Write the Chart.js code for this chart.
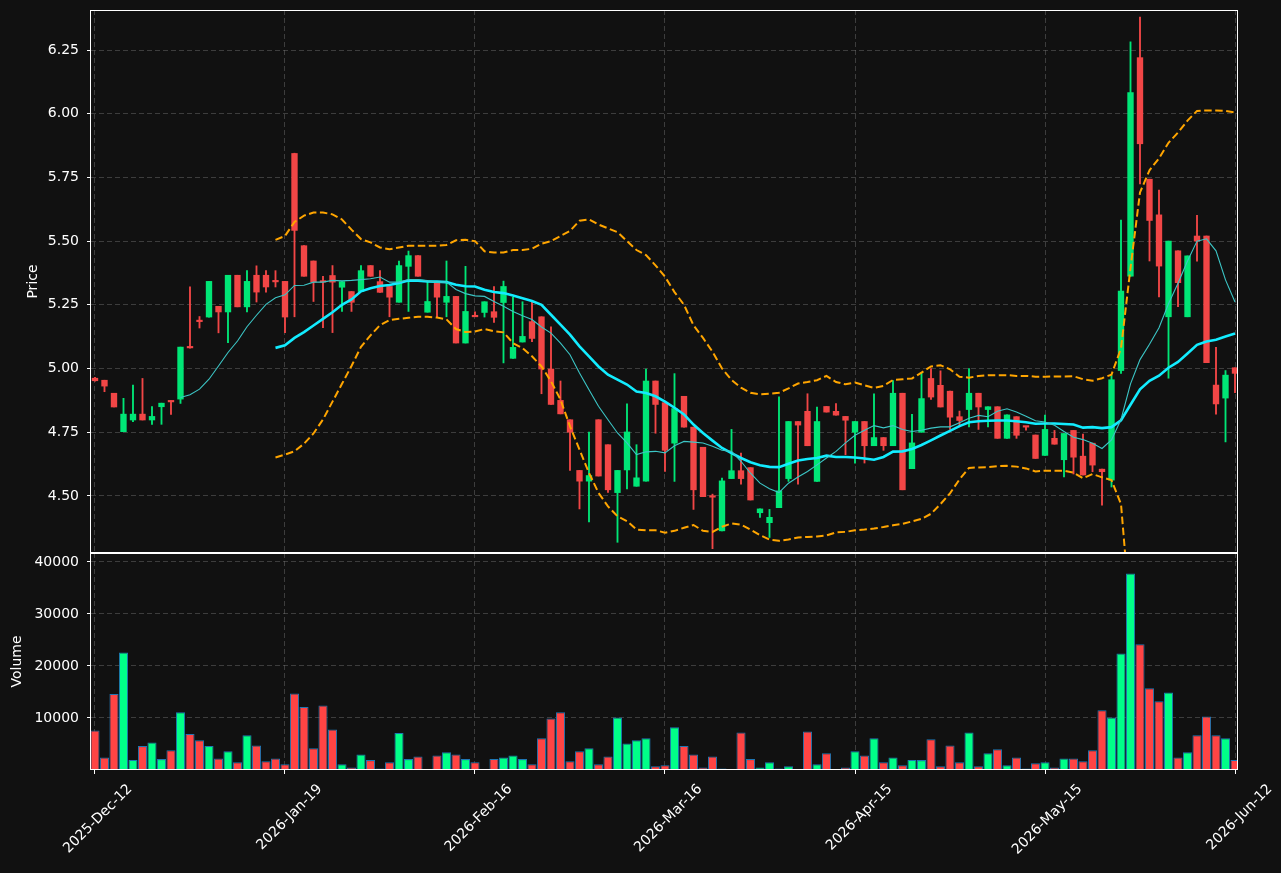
<!DOCTYPE html>
<html>
<head>
<meta charset="utf-8">
<script src="https://cdn.jsdelivr.net/npm/chart.js@4.4.1/dist/chart.umd.min.js"></script>
<style>
  html, body { margin: 0; padding: 0; background: #111111; }
  #wrap { position: relative; width: 1281px; height: 873px; background: #111111; }
  .pane { position: absolute; left: 0; }
</style>
</head>
<body>
<div id="wrap">
  <canvas id="price" class="pane" width="1281" height="553" style="top:0"></canvas>
  <canvas id="vol" class="pane" width="1281" height="320" style="top:553px"></canvas>
</div>
<script>
// ---------------- data ----------------
const tickIndex = [0, 20, 40, 60, 80, 100, 120];
const dateLabels = ['2025-Dec-12', '2026-Jan-19', '2026-Feb-16', '2026-Mar-16', '2026-Apr-15', '2026-May-15', '2026-Jun-12'];
const priceTicks = [4.50, 4.75, 5.00, 5.25, 5.50, 5.75, 6.00, 6.25];
const volumeTicks = [10000, 20000, 30000, 40000];

const open = [4.962,4.954,4.903,4.752,4.798,4.821,4.798,4.850,4.871,4.880,
5.083,5.186,5.202,5.244,5.222,5.366,5.242,5.366,5.366,5.342,
5.342,5.844,5.482,5.422,5.341,5.365,5.319,5.302,5.302,5.404,
5.341,5.322,5.260,5.401,5.443,5.221,5.341,5.260,5.283,5.100,
5.205,5.220,5.223,5.259,5.040,5.104,5.184,5.203,4.998,4.875,
4.799,4.600,4.558,4.799,4.701,4.513,4.602,4.538,4.558,4.951,
4.866,4.707,4.891,4.770,4.691,4.497,4.363,4.568,4.599,4.611,
4.434,4.395,4.454,4.568,4.792,4.832,4.557,4.851,4.832,4.812,
4.750,4.792,4.697,4.729,4.697,4.903,4.607,4.750,4.961,4.934,
4.911,4.811,4.839,4.903,4.839,4.850,4.726,4.811,4.772,4.739,
4.659,4.726,4.642,4.757,4.656,4.707,4.605,4.562,4.992,5.362,
6.220,5.743,5.603,5.203,5.462,5.203,5.520,5.520,4.935,4.884,
5.003];

const high = [4.965,4.954,4.903,4.883,4.935,4.961,4.851,4.864,4.872,5.084,
5.321,5.204,5.342,5.244,5.366,5.366,5.384,5.403,5.384,5.384,
5.342,5.845,5.482,5.422,5.362,5.404,5.341,5.302,5.404,5.404,
5.384,5.322,5.422,5.461,5.443,5.341,5.341,5.422,5.283,5.401,
5.222,5.262,5.322,5.343,5.279,5.262,5.262,5.203,5.164,4.951,
4.799,4.600,4.751,4.799,4.701,4.600,4.861,4.701,4.998,4.951,
4.866,4.980,4.891,4.770,4.691,4.507,4.570,4.761,4.668,4.611,
4.449,4.447,4.889,4.792,4.792,4.901,4.849,4.851,4.862,4.812,
4.792,4.792,4.901,4.729,4.953,4.903,4.820,4.984,5.000,4.991,
4.911,4.833,5.000,4.903,4.850,4.850,4.818,4.811,4.772,4.739,
4.817,4.757,4.745,4.757,4.743,4.707,4.605,4.972,5.583,6.282,
6.379,5.743,5.700,5.500,5.462,5.442,5.601,5.520,5.083,4.992,
5.003];

const low = [4.950,4.909,4.849,4.752,4.791,4.798,4.781,4.781,4.820,4.863,
5.080,5.159,5.202,5.140,5.101,5.242,5.222,5.261,5.300,5.320,
5.141,5.203,5.362,5.263,5.160,5.141,5.224,5.224,5.302,5.362,
5.299,5.203,5.260,5.224,5.362,5.221,5.203,5.203,5.100,5.100,
5.203,5.202,5.181,5.022,5.040,5.104,5.105,4.901,4.859,4.822,
4.600,4.449,4.398,4.578,4.514,4.318,4.527,4.538,4.558,4.746,
4.596,4.557,4.770,4.447,4.497,4.293,4.363,4.568,4.546,4.484,
4.416,4.337,4.454,4.557,4.546,4.697,4.557,4.829,4.817,4.662,
4.629,4.629,4.697,4.679,4.697,4.524,4.607,4.750,4.879,4.849,
4.761,4.771,4.771,4.761,4.771,4.726,4.726,4.726,4.758,4.647,
4.659,4.703,4.575,4.586,4.582,4.595,4.464,4.535,4.981,5.362,
5.724,5.422,5.281,4.962,5.243,5.203,5.421,5.023,4.821,4.712,
4.905];

const close = [4.952,4.931,4.849,4.821,4.821,4.798,4.812,4.864,4.869,5.084,
5.081,5.184,5.342,5.222,5.366,5.242,5.342,5.300,5.320,5.340,
5.202,5.542,5.362,5.339,5.339,5.339,5.341,5.260,5.384,5.362,
5.299,5.280,5.404,5.443,5.362,5.263,5.280,5.283,5.100,5.224,
5.203,5.262,5.201,5.322,5.083,5.126,5.118,4.998,4.859,4.822,
4.750,4.558,4.580,4.578,4.524,4.600,4.751,4.571,4.951,4.859,
4.679,4.843,4.770,4.524,4.497,4.495,4.559,4.599,4.568,4.484,
4.449,4.416,4.520,4.792,4.778,4.697,4.792,4.829,4.817,4.797,
4.792,4.697,4.729,4.697,4.903,4.524,4.708,4.882,4.888,4.849,
4.809,4.796,4.903,4.849,4.850,4.726,4.818,4.738,4.770,4.647,
4.761,4.703,4.745,4.652,4.582,4.621,4.595,4.956,5.304,6.083,
5.882,5.581,5.402,5.500,5.337,5.442,5.500,5.023,4.861,4.974,
4.981];

const volume = [7600,2400,14600,22600,1900,4600,5300,2100,3800,11100,
6900,5700,4600,2200,3600,1500,6700,4700,1700,2200,
1100,14700,12100,4200,12400,7800,1100,500,3000,1900,
300,1500,7100,2100,2600,100,2800,3400,3000,2100,
1500,100,2100,2400,2800,2100,1100,6100,9900,11100,
1700,3600,4200,1100,2600,10100,5100,5700,6100,700,
900,8200,4600,3000,500,2600,300,100,7200,2100,
500,1500,300,700,100,7400,1100,3200,100,500,
3600,2800,6100,1500,2400,900,1900,1900,5900,700,
4700,1500,7200,700,3200,4000,900,2400,300,1300,
1500,500,2200,2200,1700,3800,11500,10100,22400,37800,
24200,15700,13200,14900,2400,3400,6700,10300,6700,6100,
1900];

// thin line (10-bar average) starts at bar 9
const maShortStart = 9;
const maShort = [4.886,4.897,4.919,4.958,5.010,5.063,5.108,5.164,5.209,5.252,5.278,
5.289,5.326,5.327,5.339,5.339,5.346,5.344,5.346,5.349,5.352,
5.359,5.339,5.339,5.349,5.349,5.344,5.339,5.339,5.310,5.294,
5.285,5.283,5.263,5.244,5.224,5.207,5.192,5.163,5.139,5.100,
5.054,4.982,4.917,4.852,4.799,4.747,4.708,4.662,4.673,4.675,
4.669,4.697,4.714,4.711,4.708,4.695,4.679,4.675,4.636,4.589,
4.550,4.528,4.513,4.550,4.574,4.596,4.622,4.649,4.675,4.708,
4.738,4.758,4.776,4.767,4.776,4.761,4.753,4.758,4.766,4.771,
4.771,4.787,4.805,4.816,4.811,4.832,4.842,4.829,4.813,4.795,
4.790,4.777,4.753,4.730,4.721,4.707,4.686,4.720,4.800,4.940,
5.035,5.095,5.160,5.254,5.335,5.422,5.500,5.509,5.462,5.348,
5.261];

// thick line (20-bar average) and bands start at bar 19
const maLongStart = 19;
const maLong = [5.081,
5.091,5.120,5.143,5.169,5.195,5.221,5.250,5.271,5.303,5.315,
5.324,5.328,5.336,5.345,5.345,5.342,5.341,5.339,5.329,5.323,
5.322,5.309,5.300,5.296,5.287,5.276,5.265,5.250,5.211,5.172,
5.133,5.087,5.048,5.008,4.976,4.956,4.937,4.910,4.904,4.891,
4.870,4.846,4.820,4.780,4.747,4.717,4.688,4.668,4.649,4.632,
4.620,4.614,4.613,4.626,4.639,4.645,4.649,4.658,4.653,4.653,
4.651,4.647,4.642,4.653,4.674,4.675,4.684,4.700,4.718,4.737,
4.755,4.774,4.789,4.793,4.795,4.796,4.796,4.793,4.789,4.783,
4.784,4.784,4.782,4.780,4.768,4.770,4.766,4.770,4.797,4.858,
4.918,4.952,4.972,5.003,5.026,5.059,5.093,5.106,5.113,5.126,
5.137];

const upperBand = [5.505,
5.520,5.575,5.600,5.612,5.612,5.605,5.585,5.545,5.508,5.495,
5.475,5.468,5.475,5.482,5.482,5.482,5.482,5.485,5.503,5.505,
5.500,5.460,5.455,5.455,5.465,5.465,5.470,5.490,5.500,5.520,
5.540,5.580,5.585,5.565,5.550,5.535,5.500,5.465,5.445,5.405,
5.360,5.300,5.250,5.170,5.120,5.066,5.000,4.955,4.925,4.905,
4.899,4.901,4.905,4.922,4.941,4.947,4.954,4.971,4.947,4.938,
4.945,4.934,4.924,4.932,4.955,4.958,4.961,4.984,5.008,5.013,
4.997,4.968,4.964,4.971,4.974,4.974,4.974,4.971,4.971,4.968,
4.968,4.969,4.969,4.970,4.958,4.952,4.962,4.976,5.079,5.395,
5.691,5.778,5.825,5.886,5.926,5.973,6.011,6.013,6.013,6.011,
6.005];

const lowerBand = [4.651,
4.662,4.675,4.705,4.745,4.800,4.870,4.940,5.010,5.085,5.130,
5.170,5.190,5.195,5.199,5.203,5.203,5.200,5.193,5.155,5.143,
5.145,5.155,5.146,5.142,5.100,5.080,5.048,5.008,4.950,4.878,
4.773,4.682,4.590,4.512,4.459,4.420,4.401,4.368,4.365,4.365,
4.356,4.363,4.375,4.386,4.363,4.359,4.379,4.392,4.387,4.368,
4.346,4.329,4.324,4.329,4.337,4.339,4.341,4.345,4.357,4.359,
4.365,4.368,4.372,4.378,4.385,4.390,4.400,4.410,4.430,4.468,
4.510,4.565,4.610,4.612,4.613,4.617,4.618,4.615,4.608,4.596,
4.599,4.599,4.599,4.591,4.569,4.586,4.573,4.562,4.468,4.020,
4.100,4.110,4.110,4.120,4.120,4.140,4.170,4.190,4.210,4.230,
4.250];

// ---------------- styling ----------------
const BG = '#111111';
const TXT = '#ffffff';
const GRID = 'rgba(128,128,128,0.40)';
const UP = '#00e676';
const DOWN = '#f24646';
const VOL_UP = '#00ff88';
const VOL_DOWN = '#ff4444';
const FONT = 'DejaVu Sans';
const X_MIN = -0.42, X_MAX = 120.21;

const idx = open.map((_, i) => i);
const isUp = idx.map(i => close[i] >= open[i]);
const toPts = (arr, start) => arr.map((v, k) => ({ x: start + k, y: v }));

const framePlugin = {
  id: 'frame',
  beforeDraw(chart) {
    const c = chart.ctx;
    c.save();
    c.fillStyle = BG;
    c.fillRect(0, 0, chart.width, chart.height);
    c.restore();
  },
  afterDraw(chart) {
    const { left, right, top, bottom } = chart.chartArea;
    const c = chart.ctx;
    c.save();
    c.strokeStyle = '#ffffff';
    c.lineWidth = 1;
    c.strokeRect(Math.round(left) - 0.5, Math.round(top) + 0.5, Math.round(right - left) + 1, Math.round(bottom - top) - 1);
    c.restore();
  }
};

Chart.defaults.font.family = FONT;
Chart.defaults.color = TXT;
Chart.defaults.animation = false;

const xTicksFn = s => { s.ticks = tickIndex.map(v => ({ value: v })); };
const noPad = s => { s.paddingTop = 0; s.paddingBottom = 0; s.paddingLeft = 0; s.paddingRight = 0; };

// ---------------- price chart ----------------
new Chart(document.getElementById('price'), {
  data: {
    datasets: [
      { type: 'line', label: 'MA10', data: toPts(maShort, maShortStart), borderColor: '#3cc6c6', borderWidth: 1.1, pointRadius: 0, tension: 0, order: 0 },
      { type: 'line', label: 'MA20', data: toPts(maLong, maLongStart), borderColor: '#12ecff', borderWidth: 2.6, pointRadius: 0, tension: 0, order: 0 },
      { type: 'line', label: 'Upper', data: toPts(upperBand, maLongStart), borderColor: '#ffa500', borderWidth: 2, borderDash: [7.5, 3.5], pointRadius: 0, tension: 0, order: 0 },
      { type: 'line', label: 'Lower', data: toPts(lowerBand, maLongStart), borderColor: '#ffa500', borderWidth: 2, borderDash: [7.5, 3.5], pointRadius: 0, tension: 0, order: 0 },
      { type: 'bar', label: 'Body', data: idx.map(i => ({ x: i, y: [open[i], close[i]] })),
        backgroundColor: idx.map(i => isUp[i] ? UP : DOWN), borderWidth: 0, barThickness: 5.7, minBarLength: 1.5, grouped: false, order: 1 },
      { type: 'bar', label: 'Wick', data: idx.map(i => ({ x: i, y: [low[i], high[i]] })),
        backgroundColor: idx.map(i => isUp[i] ? UP : DOWN), borderWidth: 0, barThickness: 1.2, grouped: false, order: 2 }
    ]
  },
  options: {
    responsive: false,
    animation: false,
    layout: { padding: { top: 10, right: 44, left: 0, bottom: 0 } },
    plugins: { legend: { display: false }, tooltip: { enabled: false } },
    scales: {
      x: {
        type: 'linear', min: X_MIN, max: X_MAX, offset: false,
        afterBuildTicks: xTicksFn,
        afterFit: s => { s.height = 0; noPad(s); },
        ticks: { display: false },
        grid: { color: GRID, drawTicks: false, lineWidth: 1, offset: false },
        border: { display: false, dash: [5, 3] }
      },
      y: {
        type: 'linear', position: 'left', min: 4.276, max: 6.407,
        afterBuildTicks: s => { s.ticks = priceTicks.map(v => ({ value: v })); },
        afterFit: s => { s.width = 91; noPad(s); },
        ticks: { color: TXT, font: { size: 14 }, padding: 8, callback: v => Number(v).toFixed(2) },
        grid: { color: GRID, tickColor: '#ffffff', tickLength: 4, lineWidth: 1 },
        border: { display: false, dash: [5, 3] },
        title: { display: true, text: 'Price', color: TXT, font: { size: 14 }, padding: { top: 25, bottom: 0 } }
      }
    }
  },
  plugins: [framePlugin]
});

// ---------------- volume chart ----------------
new Chart(document.getElementById('vol'), {
  type: 'bar',
  data: {
    datasets: [
      { label: 'Volume', data: idx.map(i => ({ x: i, y: volume[i] })),
        backgroundColor: idx.map(i => isUp[i] ? VOL_UP : VOL_DOWN),
        borderColor: '#1f77b4', borderWidth: 1, barPercentage: 1, categoryPercentage: 0.96 }
    ]
  },
  options: {
    responsive: false,
    animation: false,
    layout: { padding: { top: 0, right: 44, left: 0, bottom: 0 } },
    plugins: { legend: { display: false }, tooltip: { enabled: false } },
    scales: {
      x: {
        type: 'linear', min: X_MIN, max: X_MAX, offset: false,
        afterBuildTicks: xTicksFn,
        afterFit: s => { s.height = 103; noPad(s); },
        ticks: {
          color: TXT, font: { size: 14 }, minRotation: 45, maxRotation: 45, padding: 7, labelOffset: 35,
          autoSkip: false,
          callback: v => dateLabels[tickIndex.indexOf(Math.round(v))] || ''
        },
        grid: { color: GRID, tickColor: '#ffffff', tickLength: 4, lineWidth: 1, offset: false },
        border: { display: false, dash: [5, 3] }
      },
      y: {
        type: 'linear', position: 'left', min: 0, max: 41730,
        afterBuildTicks: s => { s.ticks = volumeTicks.map(v => ({ value: v })); },
        afterFit: s => { s.width = 91; noPad(s); },
        ticks: { color: TXT, font: { size: 14 }, padding: 8, callback: v => String(v) },
        grid: { color: GRID, tickColor: '#ffffff', tickLength: 4, lineWidth: 1 },
        border: { display: false, dash: [5, 3] },
        title: { display: true, text: 'Volume', color: TXT, font: { size: 14 }, padding: { top: 9, bottom: 0 } }
      }
    }
  },
  plugins: [framePlugin]
});
</script>
</body>
</html>
